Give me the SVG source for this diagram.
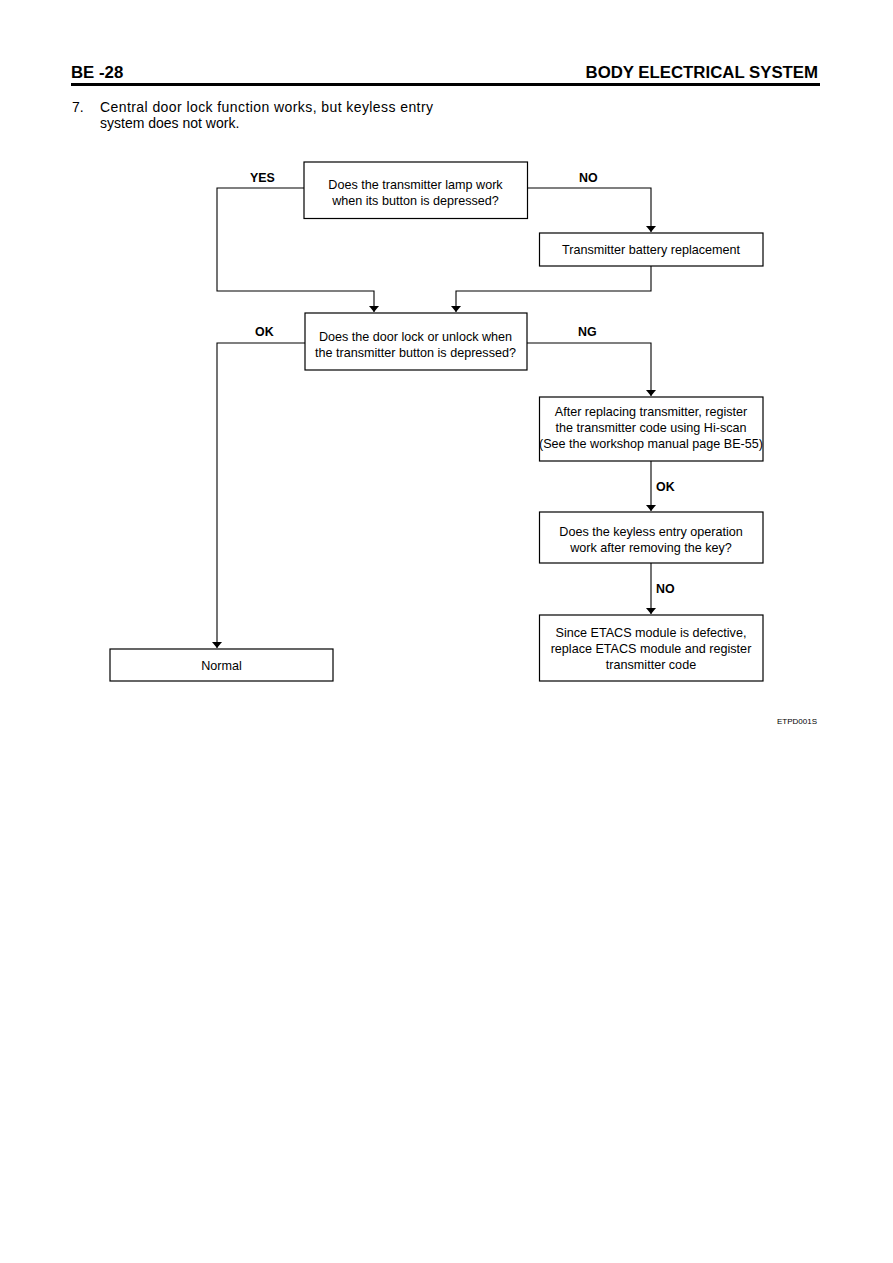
<svg xmlns="http://www.w3.org/2000/svg" width="893" height="1263" viewBox="0 0 893 1263">
<style>
.box{fill:#fff;stroke:#000;stroke-width:1.2}
.t{font-family:"Liberation Sans",Arial,sans-serif;font-size:12.6px;fill:#000;text-anchor:middle}
.lbl{font-family:"Liberation Sans",Arial,sans-serif;font-size:12.4px;font-weight:bold;fill:#000}
.c{fill:none;stroke:#000;stroke-width:1.1}
.h{font-family:"Liberation Sans",Arial,sans-serif;font-size:16.8px;font-weight:bold;fill:#000}
.p{font-family:"Liberation Sans",Arial,sans-serif;font-size:14px;fill:#000}
</style>
<defs>
<marker id="ah" viewBox="0 0 6 10" refX="6" refY="5" markerWidth="6" markerHeight="10" markerUnits="userSpaceOnUse" orient="auto-start-reverse">
<path d="M0,0 L6,5 L0,10 Z" fill="#000"/>
</marker>
</defs>
<rect width="893" height="1263" fill="#fff"/>
<g id="header">
<text class="h" x="71" y="78">BE -28</text>
<text class="h" x="818" y="78" text-anchor="end">BODY ELECTRICAL SYSTEM</text>
<rect x="71" y="83" width="749" height="3" fill="#000"/>
<text class="p" x="72" y="112">7.</text>
<text class="p" x="100" y="112" textLength="333" lengthAdjust="spacing">Central door lock function works, but keyless entry</text>
<text class="p" x="100" y="128">system does not work.</text>
</g>
<g id="connectors">
<path class="c" d="M304,188 H217 V291 H374 V312" marker-end="url(#ah)"/>
<path class="c" d="M527,188 H651 V232" marker-end="url(#ah)"/>
<path class="c" d="M651,266 V291 H456 V312" marker-end="url(#ah)"/>
<path class="c" d="M305,343 H217 V648" marker-end="url(#ah)"/>
<path class="c" d="M527,343 H651 V396" marker-end="url(#ah)"/>
<path class="c" d="M651,461 V511" marker-end="url(#ah)"/>
<path class="c" d="M651,563 V614" marker-end="url(#ah)"/>
<text class="lbl" x="250" y="182">YES</text>
<text class="lbl" x="579" y="182">NO</text>
<text class="lbl" x="255" y="336">OK</text>
<text class="lbl" x="578" y="336">NG</text>
<text class="lbl" x="656" y="491">OK</text>
<text class="lbl" x="656" y="593">NO</text>
</g>
<g id="q1">
<rect class="box" x="304" y="162" width="223.5" height="56.5"/>
<text class="t" x="415.5" y="189">Does the transmitter lamp work</text>
<text class="t" x="415.5" y="204.5">when its button is depressed?</text>
</g>
<g id="battery">
<rect class="box" x="539.5" y="233" width="223.5" height="33"/>
<text class="t" x="651" y="254">Transmitter battery replacement</text>
</g>
<g id="q2">
<rect class="box" x="305" y="313" width="222" height="57"/>
<text class="t" x="415.5" y="341">Does the door lock or unlock when</text>
<text class="t" x="415.5" y="357">the transmitter button is depressed?</text>
</g>
<g id="register">
<rect class="box" x="539.5" y="397" width="223.5" height="64"/>
<text class="t" x="651" y="416">After replacing transmitter, register</text>
<text class="t" x="651" y="432">the transmitter code using Hi-scan</text>
<text class="t" x="651" y="448">(See the workshop manual page BE-55)</text>
</g>
<g id="q3">
<rect class="box" x="539.5" y="512" width="223.5" height="51"/>
<text class="t" x="651" y="536">Does the keyless entry operation</text>
<text class="t" x="651" y="552">work after removing the key?</text>
</g>
<g id="etacs">
<rect class="box" x="539.5" y="615" width="223.5" height="66"/>
<text class="t" x="651" y="637">Since ETACS module is defective,</text>
<text class="t" x="651" y="653">replace ETACS module and register</text>
<text class="t" x="651" y="669">transmitter code</text>
</g>
<g id="normal">
<rect class="box" x="110" y="649" width="223" height="32"/>
<text class="t" x="221.5" y="670">Normal</text>
</g>
<text x="817" y="724" font-family="Liberation Sans,Arial,sans-serif" font-size="8" text-anchor="end">ETPD001S</text>
</svg>
